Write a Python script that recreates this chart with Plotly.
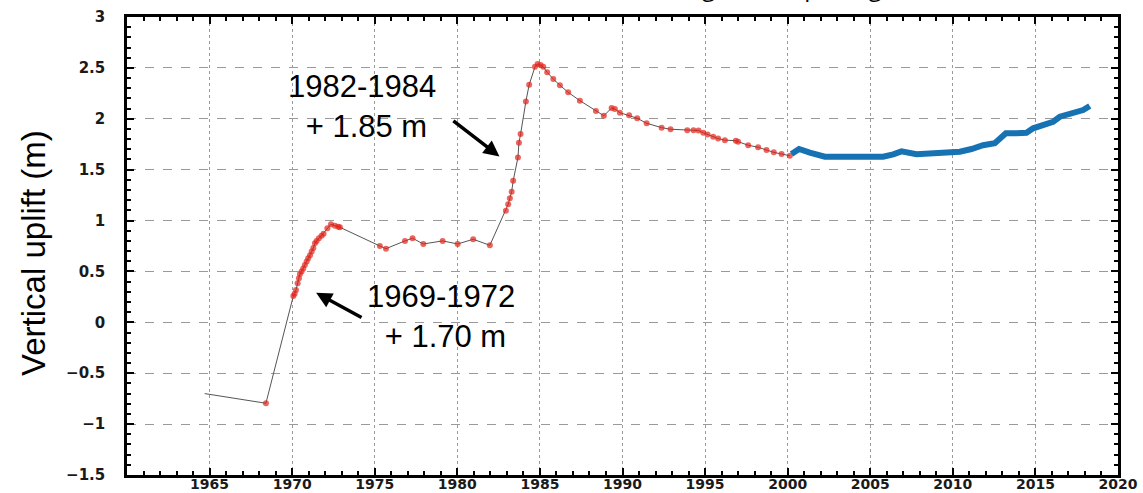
import plotly.graph_objects as go

# Levelling data (red markers, gray connecting line)
lev_year = [1964.7, 1968.41, 1970.07, 1970.15, 1970.23, 1970.33, 1970.41, 1970.47, 1970.57, 1970.67,
            1970.77, 1970.88, 1970.97, 1971.08, 1971.18, 1971.28, 1971.38, 1971.48, 1971.62, 1971.78,
            1971.9, 1972.13, 1972.35, 1972.59, 1972.79, 1972.89,
            1975.31, 1975.68, 1976.83, 1977.29, 1977.94, 1979.11, 1980.02, 1980.96, 1981.97,
            1982.94, 1983.08, 1983.18, 1983.29, 1983.38, 1983.67, 1983.73, 1983.83, 1984.15, 1984.35,
            1984.70, 1984.86, 1985.04, 1985.2, 1985.44, 1985.81, 1986.21, 1986.71, 1987.42, 1988.39,
            1988.87, 1989.34, 1989.54, 1989.84, 1990.40, 1990.89, 1991.46, 1992.37, 1992.91, 1993.92,
            1994.3, 1994.6, 1994.89, 1995.15, 1995.49, 1995.79, 1996.2, 1996.86, 1997.0, 1997.61,
            1998.21, 1998.72, 1999.16, 1999.63, 2000.13]
lev_val = [-0.70, -0.795, 0.259, 0.28, 0.318, 0.384, 0.433, 0.475, 0.50, 0.53,
           0.564, 0.597, 0.63, 0.66, 0.695, 0.73, 0.777, 0.80, 0.826, 0.85,
           0.87, 0.924, 0.963, 0.95, 0.94, 0.934,
           0.75, 0.724, 0.80, 0.826, 0.77, 0.80, 0.77, 0.816, 0.757,
           1.097, 1.16, 1.22, 1.284, 1.39, 1.62, 1.765, 1.85, 2.17, 2.335,
           2.51, 2.538, 2.528, 2.51, 2.457, 2.39, 2.33, 2.26, 2.178, 2.077,
           2.03, 2.106, 2.096, 2.06, 2.034, 2.005, 1.956, 1.913, 1.897, 1.887,
           1.888, 1.885, 1.863, 1.845, 1.824, 1.805, 1.79, 1.785, 1.775, 1.74,
           1.72, 1.693, 1.67, 1.654, 1.637]

# Continuous GPS data (blue)
gps_year = [2000.23, 2000.69, 2001.34, 2002.25, 2002.95, 2003.76, 2004.97, 2005.78, 2006.39, 2006.89,
            2007.80, 2008.81, 2009.82, 2010.42, 2011.13, 2011.83, 2012.54, 2012.85, 2013.21, 2013.85,
            2014.46, 2014.86, 2015.47, 2016.07, 2016.48, 2017.08, 2017.59, 2017.89, 2018.29]
gps_val = [1.654, 1.703, 1.667, 1.628, 1.628, 1.628, 1.618, 1.628, 1.651, 1.68,
           1.651, 1.66, 1.68, 1.677, 1.703, 1.74, 1.76, 1.805, 1.857, 1.857,
           1.863, 1.906, 1.932, 1.971, 2.02, 2.047, 2.06, 2.086, 2.126]

x_ticks = list(range(1965, 2021, 5))
y_ticks = [-1.5, -1, -0.5, 0, 0.5, 1, 1.5, 2, 2.5, 3]
y_labels = ["−1.5", "−1", "−0.5", "0", "0.5", "1", "1.5", "2", "2.5", "3"]

# Annotation texts and arrow (tail -> head) positions in data units
notes = ["1982-1984<br> + 1.85 m", "1969-1972<br> + 1.70 m"]
note_pos = [(1974.23, 2.12), (1979.0, 0.06)]
arrow_tail = [(1979.67, 1.99), (1974.29, 0.04)]
arrow_head = [(1982.55, 1.63), (1971.45, 0.29)]

fig = go.Figure()
fig.add_trace(go.Scatter(
    x=lev_year, y=lev_val, mode="lines+markers",
    line=dict(color="#555555", width=1),
    marker=dict(color="#e3241b", size=[0] + [6] * (len(lev_year) - 1), symbol="circle",
                line=dict(width=0)),
    showlegend=False))
fig.add_trace(go.Scatter(
    x=gps_year, y=gps_val, mode="lines",
    line=dict(color="#1672b3", width=6),
    showlegend=False))

font_lbl = "Liberation Sans, Arial, sans-serif"
x_tick_font = dict(size=14, family="DejaVu Sans, sans-serif", weight="bold", color="#1a1a1a")
y_tick_font = dict(size=15, family="DejaVu Sans, sans-serif", weight="bold", color="#1a1a1a")

fig.update_layout(
    width=1143, height=493,
    margin=dict(l=127, r=25, t=17, b=18),
    paper_bgcolor="white", plot_bgcolor="white",
    font=dict(family=font_lbl, color="black"),
    xaxis=dict(range=[1960, 2020], tickvals=x_ticks, ticktext=[str(v) for v in x_ticks],
               showgrid=True, gridcolor="#9a9a9a", griddash="dot", gridwidth=1,
               showline=True, linecolor="black", linewidth=2.5, mirror="allticks",
               ticks="inside", ticklen=7, tickwidth=2, tickcolor="black",
               minor=dict(dtick=1, tick0=1960, ticks="inside", ticklen=4, tickwidth=2,
                          tickcolor="black", showgrid=False),
               tickfont=x_tick_font, ticklabelstandoff=-6,
               zeroline=False, automargin=False),
    yaxis=dict(range=[-1.5, 3], tickvals=y_ticks, ticktext=y_labels,
               showgrid=True, gridcolor="#9a9a9a", griddash="dash", gridwidth=1,
               showline=True, linecolor="black", linewidth=2.5, mirror="allticks",
               ticks="inside", ticklen=7, tickwidth=2, tickcolor="black",
               minor=dict(dtick=0.1, tick0=0, ticks="inside", ticklen=4, tickwidth=2,
                          tickcolor="black", showgrid=False),
               tickfont=y_tick_font, ticklabelstandoff=16,
               zeroline=False, automargin=False),
)

ann_font = dict(size=31, family=font_lbl, color="black")
for (tx, ty), (hx, hy) in zip(arrow_tail, arrow_head):
    fig.add_annotation(x=hx, y=hy, xref="x", yref="y", ax=tx, ay=ty, axref="x", ayref="y",
                       text="", showarrow=True, arrowhead=2, arrowsize=0.9, arrowwidth=3.5,
                       arrowcolor="black")
for txt, (px, py) in zip(notes, note_pos):
    fig.add_annotation(x=px, y=py, xref="x", yref="y", text=txt,
                       showarrow=False, font=ann_font, align="center")

fig.add_annotation(x=-0.0949, y=0.4847, xref="paper", yref="paper", text="Vertical uplift (m)",
                   textangle=-90, xanchor="center", yanchor="middle", showarrow=False,
                   font=dict(size=33, family=font_lbl, color="black"))
fig.add_annotation(x=(700 - 127) / 991, y=1, xref="paper", yref="paper", xanchor="left",
                   yanchor="bottom", yshift=12, text="ground uplifting", showarrow=False,
                   font=dict(size=24, family="Open Sans, sans-serif", color="black"))

fig.write_html("out.html")
